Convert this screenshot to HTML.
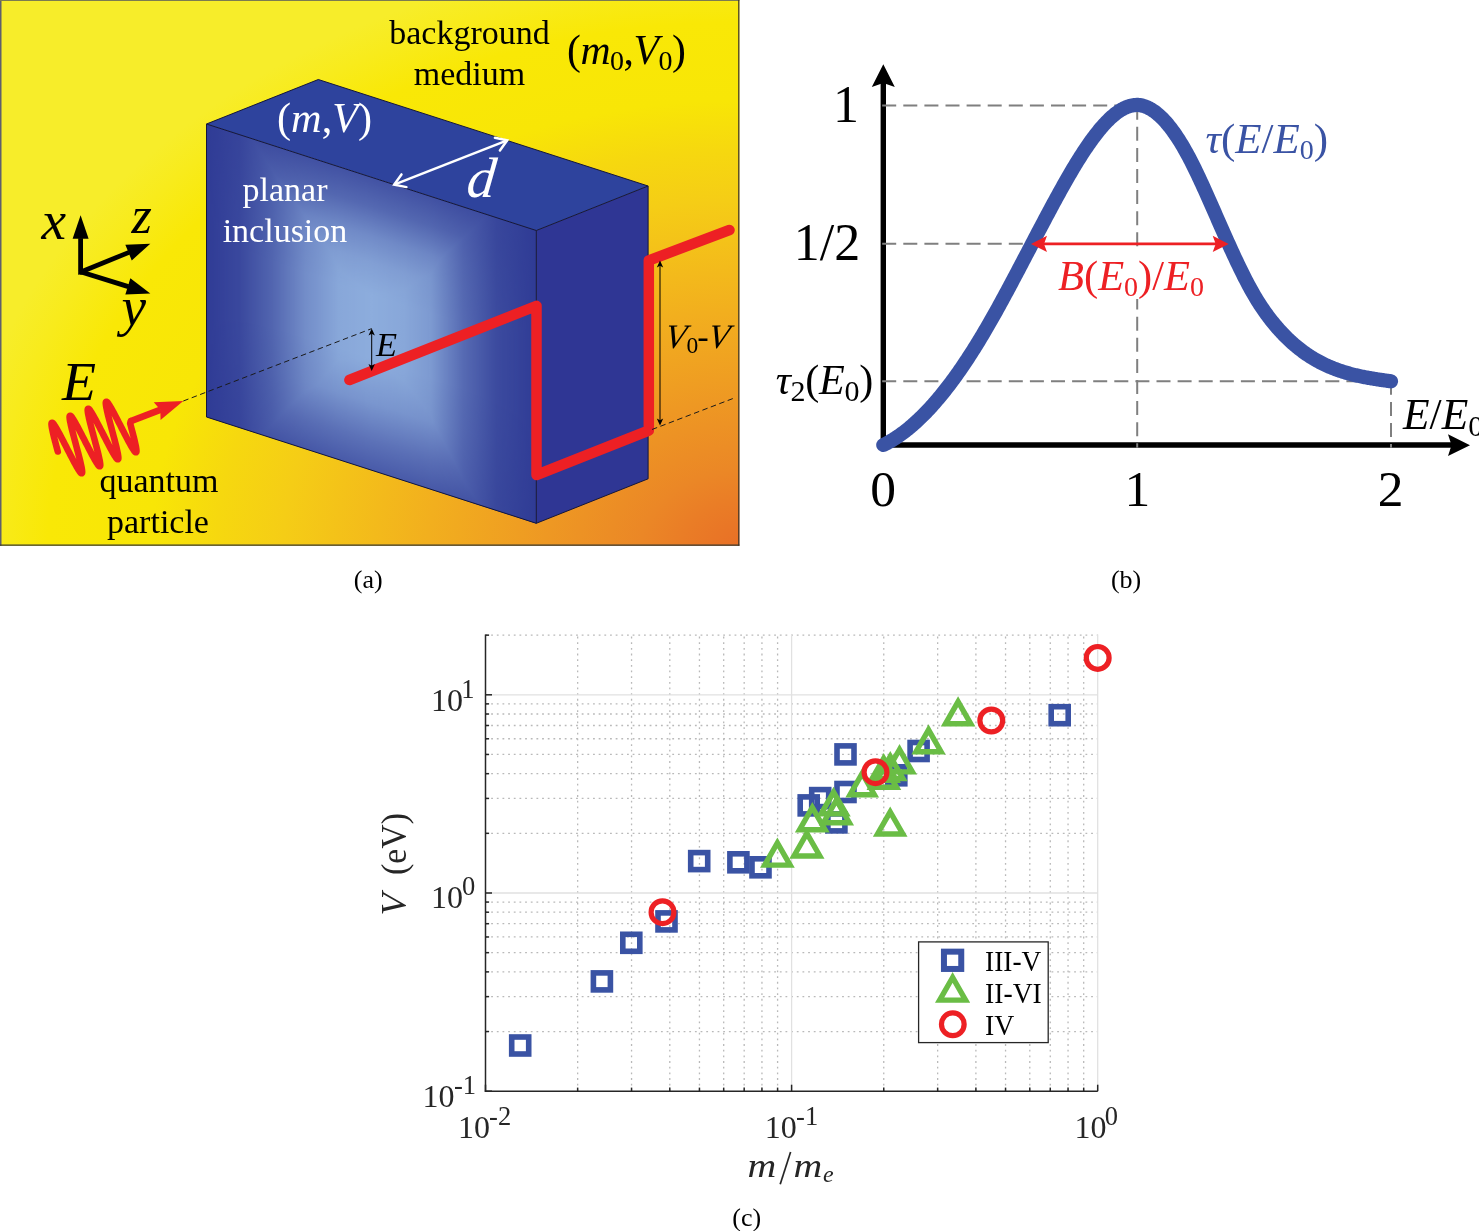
<!DOCTYPE html>
<html><head><meta charset="utf-8"><style>
html,body{margin:0;padding:0;background:#fff;}
body{width:1479px;height:1231px;overflow:hidden;}
svg{display:block;will-change:transform;font-family:"Liberation Serif", serif;}
</style></head><body>
<svg width="1479" height="1231" viewBox="0 0 1479 1231">
<defs>
<radialGradient id="bg" gradientUnits="userSpaceOnUse" cx="745" cy="550" r="600" gradientTransform="translate(745,550) scale(1.32,1) translate(-745,-550)">
<stop offset="0" stop-color="rgb(232,110,38)"/>
<stop offset="0.083" stop-color="rgb(234,125,38)"/>
<stop offset="0.133" stop-color="rgb(235,135,38)"/>
<stop offset="0.25" stop-color="rgb(238,152,35)"/>
<stop offset="0.40" stop-color="rgb(242,175,30)"/>
<stop offset="0.583" stop-color="rgb(245,205,22)"/>
<stop offset="0.667" stop-color="rgb(246,216,15)"/>
<stop offset="0.75" stop-color="rgb(248,230,6)"/>
<stop offset="0.88" stop-color="rgb(249,232,6)"/>
<stop offset="0.95" stop-color="rgb(248,235,28)"/>
<stop offset="1" stop-color="rgb(247,237,42)"/>
</radialGradient>
<linearGradient id="fu" x1="0" y1="0" x2="1" y2="0"><stop offset="0" stop-color="#fff" stop-opacity="0"/><stop offset="0.1" stop-color="#fff" stop-opacity="0.11"/><stop offset="0.2" stop-color="#fff" stop-opacity="0.37"/><stop offset="0.3" stop-color="#fff" stop-opacity="0.72"/><stop offset="0.4" stop-color="#fff" stop-opacity="0.95"/><stop offset="0.5" stop-color="#fff" stop-opacity="1.0"/><stop offset="0.6" stop-color="#fff" stop-opacity="0.95"/><stop offset="0.68" stop-color="#fff" stop-opacity="0.83"/><stop offset="0.78" stop-color="#fff" stop-opacity="0.41"/><stop offset="0.88" stop-color="#fff" stop-opacity="0.13"/><stop offset="1.0" stop-color="#fff" stop-opacity="0.0"/></linearGradient>
<linearGradient id="fv" x1="0" y1="0" x2="0" y2="1"><stop offset="0" stop-color="#fff" stop-opacity="0.2"/><stop offset="0.1" stop-color="#fff" stop-opacity="0.4"/><stop offset="0.2" stop-color="#fff" stop-opacity="0.7"/><stop offset="0.29" stop-color="#fff" stop-opacity="0.88"/><stop offset="0.4" stop-color="#fff" stop-opacity="1.0"/><stop offset="0.62" stop-color="#fff" stop-opacity="1.0"/><stop offset="0.77" stop-color="#fff" stop-opacity="0.8"/><stop offset="0.9" stop-color="#fff" stop-opacity="0.48"/><stop offset="1.0" stop-color="#fff" stop-opacity="0.27"/></linearGradient>
<linearGradient id="cu" x1="0" y1="0" x2="1" y2="0"><stop offset="0" stop-color="rgb(48,60,150)"/><stop offset="0.1" stop-color="rgb(58,72,158)"/><stop offset="0.2" stop-color="rgb(82,102,176)"/><stop offset="0.3" stop-color="rgb(115,141,201)"/><stop offset="0.4" stop-color="rgb(136,167,217)"/><stop offset="0.5" stop-color="rgb(141,173,221)"/><stop offset="0.6" stop-color="rgb(136,167,217)"/><stop offset="0.68" stop-color="rgb(125,154,209)"/><stop offset="0.78" stop-color="rgb(86,106,179)"/><stop offset="0.88" stop-color="rgb(60,75,159)"/><stop offset="1.0" stop-color="rgb(48,60,150)"/></linearGradient>
<linearGradient id="cv" x1="0" y1="0" x2="0" y2="1"><stop offset="0" stop-color="rgb(67,83,164)"/><stop offset="0.1" stop-color="rgb(85,105,178)"/><stop offset="0.2" stop-color="rgb(113,139,200)"/><stop offset="0.29" stop-color="rgb(130,159,212)"/><stop offset="0.4" stop-color="rgb(141,173,221)"/><stop offset="0.62" stop-color="rgb(141,173,221)"/><stop offset="0.77" stop-color="rgb(122,150,207)"/><stop offset="0.9" stop-color="rgb(93,114,184)"/><stop offset="1.0" stop-color="rgb(73,91,169)"/></linearGradient>
<mask id="mu" maskUnits="userSpaceOnUse" x="0" y="0" width="1" height="1" style="mask-type:alpha"><rect x="0" y="0" width="1" height="1" fill="url(#fu)"/></mask>
<mask id="mv" maskUnits="userSpaceOnUse" x="0" y="0" width="1" height="1" style="mask-type:alpha"><rect x="0" y="0" width="1" height="1" fill="url(#fv)"/></mask>
</defs>
<rect x="0" y="0" width="739.4" height="545.8" fill="url(#bg)"/>
<line x1="0.75" y1="0" x2="0.75" y2="545.8" stroke="#5f5f6c" stroke-width="1.5"/>
<line x1="0" y1="0.5" x2="739.4" y2="0.5" stroke="#7c7c50" stroke-width="1"/>
<line x1="738.8" y1="0" x2="738.8" y2="545.8" stroke="#3a3228" stroke-width="1.2"/>
<line x1="0" y1="545.2" x2="739.4" y2="545.2" stroke="#3a3a30" stroke-width="1.2"/>
<polygon points="206.50,124.00 318.30,79.50 648.10,186.00 536.30,230.50" fill="#2E439D"/>
<polygon points="536.30,230.50 648.10,186.00 648.10,478.80 536.30,523.30" fill="#2F3694"/>
<g transform="matrix(329.80,106.50,0,293.00,206.5,124)"><g style="isolation:isolate"><rect x="0" y="0" width="1" height="1" fill="url(#cu)"/><rect x="0" y="0" width="1" height="1" fill="url(#cv)" style="mix-blend-mode:darken"/></g><g opacity="0.35"><rect x="0" y="0" width="1" height="1" fill="rgb(48,60,150)"/><g mask="url(#mv)"><rect x="0" y="0" width="1" height="1" fill="rgb(141,173,221)" mask="url(#mu)"/></g></g></g>
<polygon points="206.50,124.00 318.30,79.50 648.10,186.00 648.10,478.80 536.30,523.30 206.50,417.00" fill="none" stroke="#14163a" stroke-width="1" stroke-linejoin="round"/>
<polyline points="206.50,124.00 536.30,230.50 536.30,523.30" fill="none" stroke="#14163a" stroke-width="1"/>
<line x1="536.3" y1="230.5" x2="648.0999999999999" y2="186.0" stroke="#14163a" stroke-width="1"/>
<line x1="183.3" y1="401" x2="371.7" y2="328.6" stroke="#1a1a1a" stroke-width="1" stroke-dasharray="5.5,3.5"/>
<polyline points="349.4,380 536.5,305.8 536.5,475 648.8,430.5 648.8,260.5 729.5,230" fill="none" stroke="#ED2024" stroke-width="10.5" stroke-linecap="round" stroke-linejoin="round"/>
<line x1="652" y1="429.5" x2="733" y2="398.5" stroke="#1a1a1a" stroke-width="1" stroke-dasharray="5.5,3.5"/>
<line x1="371.7" y1="333.5" x2="371.7" y2="366.1" stroke="#000" stroke-width="1"/>
<polygon points="371.7,328.6 368.5,335.6 371.7,333.85 374.9,335.6" fill="#000"/>
<polygon points="371.7,371 368.5,364 371.7,365.75 374.9,364" fill="#000"/>
<line x1="660" y1="265.4" x2="660" y2="420.6" stroke="#000" stroke-width="1"/>
<polygon points="660,260.5 656.8,267.5 660,265.75 663.2,267.5" fill="#000"/>
<polygon points="660,425.5 656.8,418.5 660,420.25 663.2,418.5" fill="#000"/>
<line x1="394.2" y1="184.6" x2="507.2" y2="140.3" stroke="#fff" stroke-width="2.5"/>
<polyline points="499.91,150.46 507.2,140.3 494.94,137.80" fill="none" stroke="#fff" stroke-width="2.5" stroke-linecap="round" stroke-linejoin="miter"/>
<polyline points="406.46,187.10 394.2,184.6 401.49,174.44" fill="none" stroke="#fff" stroke-width="2.5" stroke-linecap="round" stroke-linejoin="miter"/>
<g stroke-linecap="butt">
<line x1="80.6" y1="274.5" x2="80.60" y2="238.20" stroke="#000" stroke-width="4.8"/>
<polygon points="80.6,215.2 88.60,238.70 80.60,238.70 72.60,238.70" fill="#000"/>
<line x1="79.6" y1="272.5" x2="129.00" y2="252.38" stroke="#000" stroke-width="4.8"/>
<polygon points="150.3,243.7 131.74,260.44 128.54,252.57 125.33,244.69" fill="#000"/>
<line x1="79.6" y1="271.5" x2="128.33" y2="286.59" stroke="#000" stroke-width="4.8"/>
<polygon points="150.3,293.4 125.34,294.57 127.85,286.45 130.37,278.33" fill="#000"/>
</g>
<path d="M78.2,275 L80.6,270 L84,271" fill="#000"/>
<polyline points="57.77,451.50 57.30,449.73 56.83,447.97 56.37,446.22 55.91,444.49 55.47,442.79 55.03,441.12 54.61,439.49 54.21,437.91 53.83,436.38 53.47,434.90 53.14,433.49 52.83,432.14 52.55,430.87 52.30,429.68 52.08,428.57 51.89,427.54 51.74,426.61 51.62,425.76 51.54,425.02 51.50,424.37 51.50,423.83 51.54,423.39 51.62,423.05 51.74,422.82 51.90,422.70 52.10,422.68 52.34,422.77 52.63,422.97 52.95,423.27 53.31,423.67 53.72,424.18 54.16,424.78 54.63,425.49 55.15,426.28 55.70,427.17 56.28,428.14 56.89,429.19 57.53,430.32 58.20,431.53 58.90,432.80 59.62,434.14 60.37,435.53 61.13,436.97 61.91,438.46 62.71,439.99 63.51,441.55 64.33,443.14 65.16,444.75 65.99,446.37 66.83,448.00 67.66,449.63 68.49,451.25 69.32,452.86 70.14,454.45 70.94,456.01 71.74,457.54 72.52,459.03 73.28,460.47 74.03,461.86 74.75,463.20 75.45,464.47 76.12,465.68 76.76,466.81 77.37,467.86 77.95,468.83 78.50,469.72 79.02,470.51 79.49,471.22 79.93,471.82 80.34,472.33 80.70,472.73 81.02,473.03 81.31,473.23 81.55,473.32 81.75,473.30 81.91,473.18 82.03,472.95 82.11,472.61 82.15,472.17 82.15,471.63 82.11,470.98 82.03,470.24 81.91,469.39 81.76,468.46 81.57,467.43 81.35,466.32 81.10,465.13 80.82,463.86 80.51,462.51 80.18,461.10 79.82,459.62 79.44,458.09 79.04,456.51 78.62,454.88 78.18,453.21 77.74,451.51 77.28,449.78 76.82,448.03 76.35,446.27 75.88,444.50 75.40,442.73 74.93,440.97 74.47,439.22 74.01,437.49 73.57,435.79 73.13,434.12 72.71,432.49 72.31,430.91 71.93,429.38 71.57,427.90 71.24,426.49 70.93,425.14 70.65,423.87 70.40,422.68 70.18,421.57 69.99,420.54 69.84,419.61 69.72,418.76 69.64,418.02 69.60,417.37 69.60,416.83 69.64,416.39 69.72,416.05 69.84,415.82 70.00,415.70 70.20,415.68 70.44,415.77 70.73,415.97 71.05,416.27 71.41,416.67 71.82,417.18 72.26,417.78 72.73,418.49 73.25,419.28 73.80,420.17 74.38,421.14 74.99,422.19 75.63,423.32 76.30,424.53 77.00,425.80 77.72,427.14 78.47,428.53 79.23,429.97 80.01,431.46 80.81,432.99 81.61,434.55 82.43,436.14 83.26,437.75 84.09,439.37 84.93,441.00 85.76,442.63 86.59,444.25 87.42,445.86 88.24,447.45 89.04,449.01 89.84,450.54 90.62,452.03 91.38,453.47 92.13,454.86 92.85,456.20 93.55,457.47 94.22,458.68 94.86,459.81 95.47,460.86 96.05,461.83 96.60,462.72 97.12,463.51 97.59,464.22 98.03,464.82 98.44,465.33 98.80,465.73 99.12,466.03 99.41,466.23 99.65,466.32 99.85,466.30 100.01,466.18 100.13,465.95 100.21,465.61 100.25,465.17 100.25,464.63 100.21,463.98 100.13,463.24 100.01,462.39 99.86,461.46 99.67,460.43 99.45,459.32 99.20,458.13 98.92,456.86 98.61,455.51 98.28,454.10 97.92,452.62 97.54,451.09 97.14,449.51 96.72,447.88 96.28,446.21 95.84,444.51 95.38,442.78 94.92,441.03 94.45,439.27 93.97,437.50 93.50,435.73 93.03,433.97 92.57,432.22 92.11,430.49 91.67,428.79 91.23,427.12 90.81,425.49 90.41,423.91 90.03,422.38 89.67,420.90 89.34,419.49 89.03,418.14 88.75,416.87 88.50,415.68 88.28,414.57 88.09,413.54 87.94,412.61 87.82,411.76 87.74,411.02 87.70,410.37 87.70,409.83 87.74,409.39 87.82,409.05 87.94,408.82 88.10,408.70 88.30,408.68 88.54,408.77 88.83,408.97 89.15,409.27 89.51,409.67 89.92,410.18 90.36,410.78 90.83,411.49 91.35,412.28 91.90,413.17 92.48,414.14 93.09,415.19 93.73,416.32 94.40,417.53 95.10,418.80 95.82,420.14 96.57,421.53 97.33,422.97 98.11,424.46 98.91,425.99 99.71,427.55 100.53,429.14 101.36,430.75 102.19,432.37 103.02,434.00 103.86,435.63 104.69,437.25 105.52,438.86 106.34,440.45 107.14,442.01 107.94,443.54 108.72,445.03 109.48,446.47 110.23,447.86 110.95,449.20 111.65,450.47 112.32,451.68 112.96,452.81 113.57,453.86 114.15,454.83 114.70,455.72 115.22,456.51 115.69,457.22 116.13,457.82 116.54,458.33 116.90,458.73 117.22,459.03 117.51,459.23 117.75,459.32 117.95,459.30 118.11,459.18 118.23,458.95 118.31,458.61 118.35,458.17 118.35,457.63 118.31,456.98 118.23,456.24 118.11,455.39 117.96,454.46 117.77,453.43 117.55,452.32 117.30,451.13 117.02,449.86 116.71,448.51 116.38,447.10 116.02,445.62 115.64,444.09 115.24,442.51 114.82,440.88 114.38,439.21 113.94,437.51 113.48,435.78 113.02,434.03 112.55,432.27 112.08,430.50 111.60,428.73 111.13,426.97 110.67,425.22 110.21,423.49 109.77,421.79 109.33,420.12 108.91,418.49 108.51,416.91 108.13,415.38 107.77,413.90 107.44,412.49 107.13,411.14 106.85,409.87 106.60,408.68 106.38,407.57 106.19,406.54 106.04,405.61 105.92,404.76 105.84,404.02 105.80,403.37 105.80,402.83 105.84,402.39 105.92,402.05 106.04,401.82 106.20,401.70 106.40,401.68 106.64,401.77 106.93,401.97 107.25,402.27 107.61,402.67 108.02,403.18 108.46,403.78 108.93,404.49 109.45,405.28 110.00,406.17 110.58,407.14 111.19,408.19 111.83,409.32 112.50,410.53 113.20,411.80 113.92,413.14 114.67,414.53 115.43,415.97 116.21,417.46 117.01,418.99 117.81,420.55 118.63,422.14 119.46,423.75 120.29,425.37 121.12,427.00 121.96,428.63 122.79,430.25 123.62,431.86 124.44,433.45 125.24,435.01 126.04,436.54 126.82,438.03 127.58,439.47 128.33,440.86 129.05,442.20 129.75,443.47 130.42,444.68 131.06,445.81 131.67,446.86 132.25,447.83 132.80,448.72 133.32,449.51 133.79,450.22 134.23,450.82 134.64,451.33 135.00,451.73 135.32,452.03 135.61,452.23 135.85,452.32 136.05,452.30 136.21,452.18 136.33,451.95 136.41,451.61 136.45,451.17 136.45,450.63 136.41,449.98 136.33,449.24 136.21,448.39 136.06,447.46 135.87,446.43 135.65,445.32 135.40,444.13 135.12,442.86 134.81,441.51 134.48,440.10 134.12,438.62 133.74,437.09 133.34,435.51 132.92,433.88 132.48,432.21 132.04,430.51 131.58,428.78 131.12,427.03 130.65,425.27 130.18,423.50 130.70,421.20" fill="none" stroke="#ED2024" stroke-width="6.6" stroke-linecap="round" stroke-linejoin="round"/>
<line x1="130.2" y1="421.4" x2="160.77" y2="409.66" stroke="#ED2024" stroke-width="6.6"/>
<polygon points="183.3,401 160.57,419.91 160.30,409.84 153.76,402.17" fill="#ED2024"/>
<g font-family='"Liberation Serif", serif'>
<text x="469.50" y="43.50" font-size="34" font-style="normal" fill="#000" text-anchor="middle" >background</text>
<text x="469.50" y="84.60" font-size="34" font-style="normal" fill="#000" text-anchor="middle" >medium</text>
<text x="285.00" y="200.80" font-size="34" font-style="normal" fill="#fff" text-anchor="middle" >planar</text>
<text x="285.00" y="241.70" font-size="34" font-style="normal" fill="#fff" text-anchor="middle" >inclusion</text>
<text x="159.00" y="492.20" font-size="34" font-style="normal" fill="#000" text-anchor="middle" >quantum</text>
<text x="158.00" y="532.90" font-size="34" font-style="normal" fill="#000" text-anchor="middle" >particle</text>
<text x="567" y="64" font-size="41.7" fill="#000" letter-spacing="-0.5">(<tspan font-style="italic">m</tspan><tspan font-size="28" dy="6">0</tspan><tspan dy="-6">,</tspan><tspan font-style="italic">V</tspan><tspan font-size="28" dy="6">0</tspan><tspan dy="-6">)</tspan></text>
<text x="277" y="131.5" font-size="42.3" fill="#fff">(<tspan font-style="italic">m</tspan>,<tspan font-style="italic">V</tspan>)</text>
<text x="465.50" y="197.50" font-size="57" font-style="italic" fill="#fff" text-anchor="start" transform="translate(0,197.5) skewX(-6) translate(0,-197.5)">d</text>
<text x="62.00" y="399.50" font-size="55.7" font-style="italic" fill="#000" text-anchor="start" >E</text>
<text x="376.00" y="356.00" font-size="34.5" font-style="italic" fill="#000" text-anchor="start" >E</text>
<text x="664" y="347.9" font-size="34.4" font-style="italic" transform="translate(0,347.9) skewX(-8) translate(0,-347.9)" >V</text>
<text x="686.6" y="353" font-size="23.5">0</text>
<text x="697.3" y="347.9" font-size="34.4">-</text>
<text x="707.2" y="347.9" font-size="34.4" font-style="italic" transform="translate(0,347.9) skewX(-8) translate(0,-347.9)">V</text>
<text x="41.50" y="238.60" font-size="55.3" font-style="italic" fill="#000" text-anchor="start" >x</text>
<text x="131.50" y="232.90" font-size="52.3" font-style="italic" fill="#000" text-anchor="start" >z</text>
<text x="121.50" y="324.50" font-size="55.3" font-style="italic" fill="#000" text-anchor="start" >y</text>
</g>
<line x1="883.3" y1="447.7" x2="883.3" y2="80" stroke="#000" stroke-width="5.4"/>
<polygon points="883.3,64.2 894.8,87 883.3,83 871.8,87" fill="#000"/>
<line x1="880.6" y1="445" x2="1452" y2="445" stroke="#000" stroke-width="5.4"/>
<polygon points="1470,445.2 1448,456 1451.5,445.2 1448,434.3" fill="#000"/>
<g stroke="#7f7f7f" stroke-width="2" stroke-dasharray="14,7.1" fill="none">
<line x1="882.2" y1="105.6" x2="1137.4" y2="105.6"/>
<line x1="882.2" y1="243.7" x2="1030" y2="243.7"/>
<line x1="882.2" y1="381.3" x2="1391" y2="381.3"/>
<line x1="1137.2" y1="105.7" x2="1137.2" y2="447.7"/>
<line x1="1391" y1="380.8" x2="1391" y2="447.7"/>
</g>
<path d="M883.3,445.00 L884.3,444.48 L885.3,443.98 L886.3,443.46 L887.3,442.93 L888.3,442.38 L889.3,441.82 L890.3,441.25 L891.3,440.67 L892.3,440.07 L893.3,439.46 L894.3,438.83 L895.3,438.19 L896.3,437.54 L897.3,436.87 L898.3,436.19 L899.3,435.50 L900.3,434.80 L901.3,434.08 L902.3,433.35 L903.3,432.60 L904.3,431.85 L905.3,431.08 L906.3,430.29 L907.3,429.50 L908.3,428.69 L909.3,427.86 L910.3,427.03 L911.3,426.18 L912.3,425.32 L913.3,424.45 L914.3,423.56 L915.3,422.67 L916.3,421.75 L917.3,420.83 L918.3,419.89 L919.3,418.95 L920.3,417.99 L921.3,417.01 L922.3,416.03 L923.3,415.03 L924.3,414.02 L925.3,412.99 L926.3,411.96 L927.3,410.91 L928.3,409.85 L929.3,408.78 L930.3,407.69 L931.3,406.60 L932.3,405.49 L933.3,404.37 L934.3,403.23 L935.3,402.09 L936.3,400.93 L937.3,399.76 L938.3,398.58 L939.3,397.39 L940.3,396.19 L941.3,394.97 L942.3,393.74 L943.3,392.50 L944.3,391.25 L945.3,389.99 L946.3,388.71 L947.3,387.42 L948.3,386.13 L949.3,384.82 L950.3,383.49 L951.3,382.16 L952.3,380.82 L953.3,379.46 L954.3,378.09 L955.3,376.72 L956.3,375.32 L957.3,373.92 L958.3,372.51 L959.3,371.09 L960.3,369.65 L961.3,368.21 L962.3,366.75 L963.3,365.28 L964.3,363.80 L965.3,362.31 L966.3,360.81 L967.3,359.29 L968.3,357.77 L969.3,356.23 L970.3,354.69 L971.3,353.13 L972.3,351.56 L973.3,349.99 L974.3,348.40 L975.3,346.80 L976.3,345.19 L977.3,343.56 L978.3,341.93 L979.3,340.29 L980.3,338.64 L981.3,336.97 L982.3,335.30 L983.3,333.61 L984.3,331.92 L985.3,330.22 L986.3,328.51 L987.3,326.78 L988.3,325.05 L989.3,323.32 L990.3,321.57 L991.3,319.81 L992.3,318.05 L993.3,316.28 L994.3,314.50 L995.3,312.71 L996.3,310.92 L997.3,309.12 L998.3,307.31 L999.3,305.50 L1000.3,303.68 L1001.3,301.85 L1002.3,300.02 L1003.3,298.18 L1004.3,296.34 L1005.3,294.49 L1006.3,292.64 L1007.3,290.78 L1008.3,288.92 L1009.3,287.05 L1010.3,285.18 L1011.3,283.30 L1012.3,281.42 L1013.3,279.54 L1014.3,277.65 L1015.3,275.76 L1016.3,273.87 L1017.3,271.98 L1018.3,270.08 L1019.3,268.18 L1020.3,266.28 L1021.3,264.37 L1022.3,262.47 L1023.3,260.56 L1024.3,258.65 L1025.3,256.74 L1026.3,254.83 L1027.3,252.92 L1028.3,251.01 L1029.3,249.10 L1030.3,247.19 L1031.3,245.28 L1032.3,243.37 L1033.3,241.46 L1034.3,239.55 L1035.3,237.64 L1036.3,235.74 L1037.3,233.83 L1038.3,231.93 L1039.3,230.03 L1040.3,228.13 L1041.3,226.23 L1042.3,224.34 L1043.3,222.45 L1044.3,220.56 L1045.3,218.67 L1046.3,216.79 L1047.3,214.91 L1048.3,213.04 L1049.3,211.17 L1050.3,209.30 L1051.3,207.44 L1052.3,205.58 L1053.3,203.73 L1054.3,201.89 L1055.3,200.05 L1056.3,198.21 L1057.3,196.38 L1058.3,194.56 L1059.3,192.74 L1060.3,190.93 L1061.3,189.13 L1062.3,187.34 L1063.3,185.55 L1064.3,183.78 L1065.3,182.01 L1066.3,180.25 L1067.3,178.50 L1068.3,176.76 L1069.3,175.04 L1070.3,173.32 L1071.3,171.62 L1072.3,169.92 L1073.3,168.24 L1074.3,166.57 L1075.3,164.92 L1076.3,163.28 L1077.3,161.65 L1078.3,160.04 L1079.3,158.44 L1080.3,156.85 L1081.3,155.28 L1082.3,153.73 L1083.3,152.19 L1084.3,150.67 L1085.3,149.17 L1086.3,147.68 L1087.3,146.21 L1088.3,144.76 L1089.3,143.33 L1090.3,141.91 L1091.3,140.52 L1092.3,139.14 L1093.3,137.79 L1094.3,136.45 L1095.3,135.14 L1096.3,133.85 L1097.3,132.58 L1098.3,131.33 L1099.3,130.10 L1100.3,128.89 L1101.3,127.71 L1102.3,126.56 L1103.3,125.42 L1104.3,124.31 L1105.3,123.23 L1106.3,122.17 L1107.3,121.14 L1108.3,120.13 L1109.3,119.16 L1110.3,118.21 L1111.3,117.29 L1112.3,116.39 L1113.3,115.53 L1114.3,114.70 L1115.3,113.89 L1116.3,113.12 L1117.3,112.38 L1118.3,111.67 L1119.3,111.00 L1120.3,110.36 L1121.3,109.75 L1122.3,109.17 L1123.3,108.63 L1124.3,108.13 L1125.3,107.66 L1126.3,107.22 L1127.3,106.83 L1128.3,106.47 L1129.3,106.15 L1130.3,105.87 L1131.3,105.62 L1132.3,105.42 L1133.3,105.25 L1134.3,105.13 L1135.3,105.04 L1136.3,105.00 L1136.8,104.86 L1137.8,104.91 L1138.8,104.99 L1139.8,105.12 L1140.8,105.29 L1141.8,105.50 L1142.8,105.75 L1143.8,106.04 L1144.8,106.37 L1145.8,106.74 L1146.8,107.14 L1147.8,107.59 L1148.8,108.08 L1149.8,108.60 L1150.8,109.16 L1151.8,109.77 L1152.8,110.41 L1153.8,111.08 L1154.8,111.80 L1155.8,112.55 L1156.8,113.34 L1157.8,114.17 L1158.8,115.03 L1159.8,115.93 L1160.8,116.87 L1161.8,117.84 L1162.8,118.85 L1163.8,119.89 L1164.8,120.97 L1165.8,122.08 L1166.8,123.23 L1167.8,124.42 L1168.8,125.64 L1169.8,126.89 L1170.8,128.18 L1171.8,129.50 L1172.8,130.86 L1173.8,132.25 L1174.8,133.67 L1175.8,135.12 L1176.8,136.61 L1177.8,138.13 L1178.8,139.69 L1179.8,141.27 L1180.8,142.89 L1181.8,144.54 L1182.8,146.22 L1183.8,147.93 L1184.8,149.68 L1185.8,151.45 L1186.8,153.26 L1187.8,155.10 L1188.8,156.96 L1189.8,158.86 L1190.8,160.78 L1191.8,162.74 L1192.8,164.72 L1193.8,166.73 L1194.8,168.76 L1195.8,170.82 L1196.8,172.90 L1197.8,175.00 L1198.8,177.12 L1199.8,179.26 L1200.8,181.41 L1201.8,183.58 L1202.8,185.77 L1203.8,187.97 L1204.8,190.18 L1205.8,192.40 L1206.8,194.63 L1207.8,196.88 L1208.8,199.12 L1209.8,201.38 L1210.8,203.64 L1211.8,205.90 L1212.8,208.17 L1213.8,210.44 L1214.8,212.71 L1215.8,214.99 L1216.8,217.26 L1217.8,219.53 L1218.8,221.80 L1219.8,224.08 L1220.8,226.34 L1221.8,228.61 L1222.8,230.87 L1223.8,233.12 L1224.8,235.37 L1225.8,237.61 L1226.8,239.85 L1227.8,242.07 L1228.8,244.29 L1229.8,246.50 L1230.8,248.70 L1231.8,250.88 L1232.8,253.06 L1233.8,255.22 L1234.8,257.37 L1235.8,259.50 L1236.8,261.62 L1237.8,263.72 L1238.8,265.81 L1239.8,267.87 L1240.8,269.92 L1241.8,271.95 L1242.8,273.96 L1243.8,275.95 L1244.8,277.92 L1245.8,279.87 L1246.8,281.79 L1247.8,283.69 L1248.8,285.56 L1249.8,287.41 L1250.8,289.23 L1251.8,291.03 L1252.8,292.80 L1253.8,294.53 L1254.8,296.24 L1255.8,297.92 L1256.8,299.57 L1257.8,301.19 L1258.8,302.78 L1259.8,304.34 L1260.8,305.87 L1261.8,307.38 L1262.8,308.85 L1263.8,310.30 L1264.8,311.73 L1265.8,313.13 L1266.8,314.51 L1267.8,315.86 L1268.8,317.19 L1269.8,318.50 L1270.8,319.78 L1271.8,321.05 L1272.8,322.29 L1273.8,323.52 L1274.8,324.73 L1275.8,325.92 L1276.8,327.09 L1277.8,328.24 L1278.8,329.37 L1279.8,330.48 L1280.8,331.58 L1281.8,332.66 L1282.8,333.71 L1283.8,334.76 L1284.8,335.78 L1285.8,336.79 L1286.8,337.78 L1287.8,338.75 L1288.8,339.71 L1289.8,340.65 L1290.8,341.57 L1291.8,342.48 L1292.8,343.37 L1293.8,344.25 L1294.8,345.11 L1295.8,345.96 L1296.8,346.79 L1297.8,347.60 L1298.8,348.40 L1299.8,349.19 L1300.8,349.96 L1301.8,350.72 L1302.8,351.46 L1303.8,352.19 L1304.8,352.90 L1305.8,353.60 L1306.8,354.29 L1307.8,354.97 L1308.8,355.63 L1309.8,356.28 L1310.8,356.92 L1311.8,357.54 L1312.8,358.15 L1313.8,358.75 L1314.8,359.34 L1315.8,359.92 L1316.8,360.48 L1317.8,361.03 L1318.8,361.58 L1319.8,362.11 L1320.8,362.63 L1321.8,363.14 L1322.8,363.64 L1323.8,364.13 L1324.8,364.61 L1325.8,365.08 L1326.8,365.54 L1327.8,365.99 L1328.8,366.43 L1329.8,366.86 L1330.8,367.28 L1331.8,367.69 L1332.8,368.10 L1333.8,368.49 L1334.8,368.88 L1335.8,369.26 L1336.8,369.63 L1337.8,369.99 L1338.8,370.34 L1339.8,370.69 L1340.8,371.02 L1341.8,371.35 L1342.8,371.68 L1343.8,371.99 L1344.8,372.30 L1345.8,372.60 L1346.8,372.90 L1347.8,373.18 L1348.8,373.46 L1349.8,373.74 L1350.8,374.01 L1351.8,374.27 L1352.8,374.52 L1353.8,374.77 L1354.8,375.02 L1355.8,375.26 L1356.8,375.49 L1357.8,375.72 L1358.8,375.94 L1359.8,376.16 L1360.8,376.37 L1361.8,376.58 L1362.8,376.79 L1363.8,376.99 L1364.8,377.18 L1365.8,377.37 L1366.8,377.56 L1367.8,377.75 L1368.8,377.93 L1369.8,378.10 L1370.8,378.28 L1371.8,378.45 L1372.8,378.61 L1373.8,378.78 L1374.8,378.94 L1375.8,379.10 L1376.8,379.26 L1377.8,379.41 L1378.8,379.56 L1379.8,379.71 L1380.8,379.86 L1381.8,380.01 L1382.8,380.15 L1383.8,380.29 L1384.8,380.44 L1385.8,380.58 L1386.8,380.72 L1387.8,380.86 L1388.8,381.00 L1389.8,381.13 L1391.0,381.30" fill="none" stroke="#3A53A4" stroke-width="14.2" stroke-linecap="round" stroke-linejoin="round"/>
<line x1="1040" y1="243.9" x2="1220" y2="243.9" stroke="#ED2024" stroke-width="2.6"/>
<polygon points="1031,243.9 1047,235.8 1044,243.9 1047,252" fill="#ED2024"/>
<polygon points="1228.7,243.9 1212.7,235.8 1215.7,243.9 1212.7,252" fill="#ED2024"/>
<g font-family='"Liberation Serif", serif'>
<text x="846.00" y="122.00" font-size="52" font-style="normal" fill="#000" text-anchor="middle" >1</text>
<text x="827.00" y="259.60" font-size="52" font-style="normal" fill="#000" text-anchor="middle" >1/2</text>
<text x="883.20" y="506.00" font-size="51.5" font-style="normal" fill="#000" text-anchor="middle" >0</text>
<text x="1137.30" y="506.00" font-size="51.5" font-style="normal" fill="#000" text-anchor="middle" >1</text>
<text x="1390.50" y="506.00" font-size="51.5" font-style="normal" fill="#000" text-anchor="middle" >2</text>
<text x="775.8" y="393.8" font-size="42.2" fill="#000" letter-spacing="-0.3"><tspan font-style="italic">τ</tspan><tspan font-size="30" dy="7">2</tspan><tspan dy="-7">(</tspan><tspan font-style="italic">E</tspan><tspan font-size="30" dy="7">0</tspan><tspan dy="-7">)</tspan></text>
<text x="1205.5" y="153.2" font-size="43" fill="#3A53A4"><tspan font-style="italic">τ</tspan>(<tspan font-style="italic">E</tspan>/<tspan font-style="italic">E</tspan><tspan font-size="28" dy="5.5">0</tspan><tspan dy="-5.5">)</tspan></text>
<rect x="1056" y="253" width="152" height="46" fill="#fff"/>
<text x="1058" y="290" font-size="42.5" fill="#ED2024"><tspan font-style="italic">B</tspan>(<tspan font-style="italic">E</tspan><tspan font-size="28" dy="6">0</tspan><tspan dy="-6">)/</tspan><tspan font-style="italic">E</tspan><tspan font-size="28" dy="6">0</tspan></text>
<text x="1403" y="429" font-size="43.5" fill="#000"><tspan font-style="italic">E</tspan>/<tspan font-style="italic">E</tspan><tspan font-size="30" dy="7">0</tspan></text>
</g>
<g stroke="#b9b9b9" stroke-width="1.3" stroke-dasharray="1.8,3.86" fill="none">
<line x1="577.65" y1="1091.2" x2="577.65" y2="634.5"/>
<line x1="631.55" y1="1091.2" x2="631.55" y2="634.5"/>
<line x1="669.79" y1="1091.2" x2="669.79" y2="634.5"/>
<line x1="699.45" y1="1091.2" x2="699.45" y2="634.5"/>
<line x1="723.69" y1="1091.2" x2="723.69" y2="634.5"/>
<line x1="744.18" y1="1091.2" x2="744.18" y2="634.5"/>
<line x1="761.94" y1="1091.2" x2="761.94" y2="634.5"/>
<line x1="777.59" y1="1091.2" x2="777.59" y2="634.5"/>
<line x1="883.75" y1="1091.2" x2="883.75" y2="634.5"/>
<line x1="937.65" y1="1091.2" x2="937.65" y2="634.5"/>
<line x1="975.89" y1="1091.2" x2="975.89" y2="634.5"/>
<line x1="1005.55" y1="1091.2" x2="1005.55" y2="634.5"/>
<line x1="1029.79" y1="1091.2" x2="1029.79" y2="634.5"/>
<line x1="1050.28" y1="1091.2" x2="1050.28" y2="634.5"/>
<line x1="1068.04" y1="1091.2" x2="1068.04" y2="634.5"/>
<line x1="1083.69" y1="1091.2" x2="1083.69" y2="634.5"/>
<line x1="485.5" y1="1031.54" x2="1097.8" y2="1031.54"/>
<line x1="485.5" y1="996.63" x2="1097.8" y2="996.63"/>
<line x1="485.5" y1="971.87" x2="1097.8" y2="971.87"/>
<line x1="485.5" y1="952.66" x2="1097.8" y2="952.66"/>
<line x1="485.5" y1="936.97" x2="1097.8" y2="936.97"/>
<line x1="485.5" y1="923.70" x2="1097.8" y2="923.70"/>
<line x1="485.5" y1="912.21" x2="1097.8" y2="912.21"/>
<line x1="485.5" y1="902.07" x2="1097.8" y2="902.07"/>
<line x1="485.5" y1="833.34" x2="1097.8" y2="833.34"/>
<line x1="485.5" y1="798.43" x2="1097.8" y2="798.43"/>
<line x1="485.5" y1="773.67" x2="1097.8" y2="773.67"/>
<line x1="485.5" y1="754.46" x2="1097.8" y2="754.46"/>
<line x1="485.5" y1="738.77" x2="1097.8" y2="738.77"/>
<line x1="485.5" y1="725.50" x2="1097.8" y2="725.50"/>
<line x1="485.5" y1="714.01" x2="1097.8" y2="714.01"/>
<line x1="485.5" y1="703.87" x2="1097.8" y2="703.87"/>
<line x1="485.5" y1="635.14" x2="1097.8" y2="635.14"/>
</g>
<g stroke="#e1e1e1" stroke-width="1.3" fill="none">
<line x1="791.60" y1="1091.2" x2="791.60" y2="634.5"/>
<line x1="1097.70" y1="1091.2" x2="1097.70" y2="634.5"/>
<line x1="485.5" y1="893.00" x2="1097.8" y2="893.00"/>
<line x1="485.5" y1="694.80" x2="1097.8" y2="694.80"/>
</g>
<g stroke="#262626" stroke-width="1.5" fill="none">
<line x1="485.5" y1="1091.9" x2="485.5" y2="634.5"/>
<line x1="484.8" y1="1091.2" x2="1097.8" y2="1091.2"/>
<line x1="485.50" y1="1091.2" x2="485.50" y2="1084.7"/>
<line x1="577.65" y1="1091.2" x2="577.65" y2="1087.6000000000001"/>
<line x1="631.55" y1="1091.2" x2="631.55" y2="1087.6000000000001"/>
<line x1="669.79" y1="1091.2" x2="669.79" y2="1087.6000000000001"/>
<line x1="699.45" y1="1091.2" x2="699.45" y2="1087.6000000000001"/>
<line x1="723.69" y1="1091.2" x2="723.69" y2="1087.6000000000001"/>
<line x1="744.18" y1="1091.2" x2="744.18" y2="1087.6000000000001"/>
<line x1="761.94" y1="1091.2" x2="761.94" y2="1087.6000000000001"/>
<line x1="777.59" y1="1091.2" x2="777.59" y2="1087.6000000000001"/>
<line x1="791.60" y1="1091.2" x2="791.60" y2="1084.7"/>
<line x1="883.75" y1="1091.2" x2="883.75" y2="1087.6000000000001"/>
<line x1="937.65" y1="1091.2" x2="937.65" y2="1087.6000000000001"/>
<line x1="975.89" y1="1091.2" x2="975.89" y2="1087.6000000000001"/>
<line x1="1005.55" y1="1091.2" x2="1005.55" y2="1087.6000000000001"/>
<line x1="1029.79" y1="1091.2" x2="1029.79" y2="1087.6000000000001"/>
<line x1="1050.28" y1="1091.2" x2="1050.28" y2="1087.6000000000001"/>
<line x1="1068.04" y1="1091.2" x2="1068.04" y2="1087.6000000000001"/>
<line x1="1083.69" y1="1091.2" x2="1083.69" y2="1087.6000000000001"/>
<line x1="1097.70" y1="1091.2" x2="1097.70" y2="1084.7"/>
<line x1="485.5" y1="1091.20" x2="492.0" y2="1091.20"/>
<line x1="485.5" y1="1031.54" x2="489.1" y2="1031.54"/>
<line x1="485.5" y1="996.63" x2="489.1" y2="996.63"/>
<line x1="485.5" y1="971.87" x2="489.1" y2="971.87"/>
<line x1="485.5" y1="952.66" x2="489.1" y2="952.66"/>
<line x1="485.5" y1="936.97" x2="489.1" y2="936.97"/>
<line x1="485.5" y1="923.70" x2="489.1" y2="923.70"/>
<line x1="485.5" y1="912.21" x2="489.1" y2="912.21"/>
<line x1="485.5" y1="902.07" x2="489.1" y2="902.07"/>
<line x1="485.5" y1="893.00" x2="492.0" y2="893.00"/>
<line x1="485.5" y1="833.34" x2="489.1" y2="833.34"/>
<line x1="485.5" y1="798.43" x2="489.1" y2="798.43"/>
<line x1="485.5" y1="773.67" x2="489.1" y2="773.67"/>
<line x1="485.5" y1="754.46" x2="489.1" y2="754.46"/>
<line x1="485.5" y1="738.77" x2="489.1" y2="738.77"/>
<line x1="485.5" y1="725.50" x2="489.1" y2="725.50"/>
<line x1="485.5" y1="714.01" x2="489.1" y2="714.01"/>
<line x1="485.5" y1="703.87" x2="489.1" y2="703.87"/>
<line x1="485.5" y1="694.80" x2="492.0" y2="694.80"/>
<line x1="485.5" y1="635.14" x2="489.1" y2="635.14"/>
</g>
<rect x="511.70" y="1037.00" width="17.00" height="17.00" fill="none" stroke="#3A53A4" stroke-width="5.6"/>
<rect x="593.40" y="972.90" width="17.00" height="17.00" fill="none" stroke="#3A53A4" stroke-width="5.6"/>
<rect x="622.80" y="934.30" width="17.00" height="17.00" fill="none" stroke="#3A53A4" stroke-width="5.6"/>
<rect x="658.00" y="912.90" width="17.00" height="17.00" fill="none" stroke="#3A53A4" stroke-width="5.6"/>
<rect x="690.70" y="852.60" width="17.00" height="17.00" fill="none" stroke="#3A53A4" stroke-width="5.6"/>
<rect x="729.90" y="853.80" width="17.00" height="17.00" fill="none" stroke="#3A53A4" stroke-width="5.6"/>
<rect x="752.00" y="858.80" width="17.00" height="17.00" fill="none" stroke="#3A53A4" stroke-width="5.6"/>
<rect x="800.20" y="796.90" width="17.00" height="17.00" fill="none" stroke="#3A53A4" stroke-width="5.6"/>
<rect x="811.70" y="789.60" width="17.00" height="17.00" fill="none" stroke="#3A53A4" stroke-width="5.6"/>
<rect x="837.00" y="783.50" width="17.00" height="17.00" fill="none" stroke="#3A53A4" stroke-width="5.6"/>
<rect x="827.90" y="813.90" width="17.00" height="17.00" fill="none" stroke="#3A53A4" stroke-width="5.6"/>
<rect x="837.00" y="745.90" width="17.00" height="17.00" fill="none" stroke="#3A53A4" stroke-width="5.6"/>
<rect x="887.80" y="766.80" width="17.00" height="17.00" fill="none" stroke="#3A53A4" stroke-width="5.6"/>
<rect x="910.10" y="742.50" width="17.00" height="17.00" fill="none" stroke="#3A53A4" stroke-width="5.6"/>
<rect x="1051.20" y="706.70" width="17.00" height="17.00" fill="none" stroke="#3A53A4" stroke-width="5.6"/>
<polygon points="777.40,842.90 764.68,865.10 790.12,865.10" fill="none" stroke="#6ABD45" stroke-width="5.4" stroke-linejoin="miter" stroke-miterlimit="10"/>
<polygon points="806.90,833.40 793.95,856.00 819.85,856.00" fill="none" stroke="#6ABD45" stroke-width="5.4" stroke-linejoin="miter" stroke-miterlimit="10"/>
<polygon points="812.30,807.50 799.52,829.80 825.08,829.80" fill="none" stroke="#6ABD45" stroke-width="5.4" stroke-linejoin="miter" stroke-miterlimit="10"/>
<polygon points="833.60,792.10 821.11,813.90 846.09,813.90" fill="none" stroke="#6ABD45" stroke-width="5.4" stroke-linejoin="miter" stroke-miterlimit="10"/>
<polygon points="836.40,800.10 823.39,822.80 849.41,822.80" fill="none" stroke="#6ABD45" stroke-width="5.4" stroke-linejoin="miter" stroke-miterlimit="10"/>
<polygon points="862.20,773.40 849.99,794.70 874.41,794.70" fill="none" stroke="#6ABD45" stroke-width="5.4" stroke-linejoin="miter" stroke-miterlimit="10"/>
<polygon points="883.90,765.10 871.18,787.30 896.62,787.30" fill="none" stroke="#6ABD45" stroke-width="5.4" stroke-linejoin="miter" stroke-miterlimit="10"/>
<polygon points="883.70,758.40 871.15,780.30 896.25,780.30" fill="none" stroke="#6ABD45" stroke-width="5.4" stroke-linejoin="miter" stroke-miterlimit="10"/>
<polygon points="890.30,756.40 877.63,778.50 902.97,778.50" fill="none" stroke="#6ABD45" stroke-width="5.4" stroke-linejoin="miter" stroke-miterlimit="10"/>
<polygon points="899.50,749.50 886.66,771.90 912.34,771.90" fill="none" stroke="#6ABD45" stroke-width="5.4" stroke-linejoin="miter" stroke-miterlimit="10"/>
<polygon points="890.20,811.90 877.53,834.00 902.87,834.00" fill="none" stroke="#6ABD45" stroke-width="5.4" stroke-linejoin="miter" stroke-miterlimit="10"/>
<polygon points="928.50,729.80 915.95,751.70 941.05,751.70" fill="none" stroke="#6ABD45" stroke-width="5.4" stroke-linejoin="miter" stroke-miterlimit="10"/>
<polygon points="958.10,701.70 945.43,723.80 970.77,723.80" fill="none" stroke="#6ABD45" stroke-width="5.4" stroke-linejoin="miter" stroke-miterlimit="10"/>
<circle cx="662.5" cy="912.2" r="11.40" fill="none" stroke="#ED2024" stroke-width="5.2"/>
<circle cx="875.5" cy="772.2" r="11.40" fill="none" stroke="#ED2024" stroke-width="5.2"/>
<circle cx="991.3" cy="720.5" r="11.40" fill="none" stroke="#ED2024" stroke-width="5.2"/>
<circle cx="1097.7" cy="657.9" r="11.40" fill="none" stroke="#ED2024" stroke-width="5.2"/>
<rect x="918.6" y="941.9" width="129.6" height="100.7" fill="#fff" stroke="#262626" stroke-width="1.3"/>
<rect x="943.95" y="951.65" width="17.30" height="17.30" fill="none" stroke="#3A53A4" stroke-width="6"/>
<polygon points="952.60,977.50 939.65,1000.10 965.55,1000.10" fill="none" stroke="#6ABD45" stroke-width="5.4" stroke-linejoin="miter" stroke-miterlimit="10"/>
<circle cx="952.8" cy="1024.3" r="11.35" fill="none" stroke="#ED2024" stroke-width="5.2"/>
<g font-family='"Liberation Serif", serif' fill="#000">
<text x="985.10" y="971.10" font-size="29.5" font-style="normal" fill="#000" text-anchor="start" textLength="56.2" lengthAdjust="spacingAndGlyphs">III-V</text>
<text x="985.10" y="1002.80" font-size="29.5" font-style="normal" fill="#000" text-anchor="start" textLength="56.7" lengthAdjust="spacingAndGlyphs">II-VI</text>
<text x="985.10" y="1034.50" font-size="29.5" font-style="normal" fill="#000" text-anchor="start" textLength="29.3" lengthAdjust="spacingAndGlyphs">IV</text>
<g fill="#262626">
<text x="431.1" y="710.7" font-size="32">10</text>
<text x="461.2" y="697.8" font-size="26.5">1</text>
<text x="431.1" y="908.3" font-size="32">10</text>
<text x="461.9" y="895.0" font-size="26.5">0</text>
<text x="422.6" y="1106.6" font-size="32">10</text>
<text x="453.9" y="1093.5" font-size="26.5">-1</text>
<text x="458.0" y="1138.4" font-size="32">10</text>
<text x="489.1" y="1125.0" font-size="26.5">-2</text>
<text x="764.7" y="1138.4" font-size="32">10</text>
<text x="796.1" y="1125.0" font-size="26.5">-1</text>
<text x="1074.4" y="1138.4" font-size="32">10</text>
<text x="1104.8" y="1125.0" font-size="26.5">0</text>
<text transform="translate(747.6,1177) scale(1.17,1)" font-size="34" font-style="italic">m</text>
<line x1="780.2" y1="1184.3" x2="790.6" y2="1152" stroke="#262626" stroke-width="1.7"/>
<text transform="translate(793.6,1177) scale(1.17,1)" font-size="34" font-style="italic">m</text>
<text x="823" y="1181.5" font-size="24" font-style="italic">e</text>
<text transform="translate(406.4,915.5) rotate(-90)" font-size="36.5" font-style="italic">V</text>
<text transform="translate(406.4,913.3) rotate(-90)" x="38.3" font-size="36.5" textLength="62" lengthAdjust="spacingAndGlyphs">(eV)</text>
</g>
<text x="368.30" y="588.30" font-size="26" font-style="normal" fill="#000" text-anchor="middle" >(a)</text>
<text x="1126.10" y="588.30" font-size="26" font-style="normal" fill="#000" text-anchor="middle" >(b)</text>
<text x="746.70" y="1226.30" font-size="26" font-style="normal" fill="#000" text-anchor="middle" >(c)</text>
</g>
</svg>
</body></html>
